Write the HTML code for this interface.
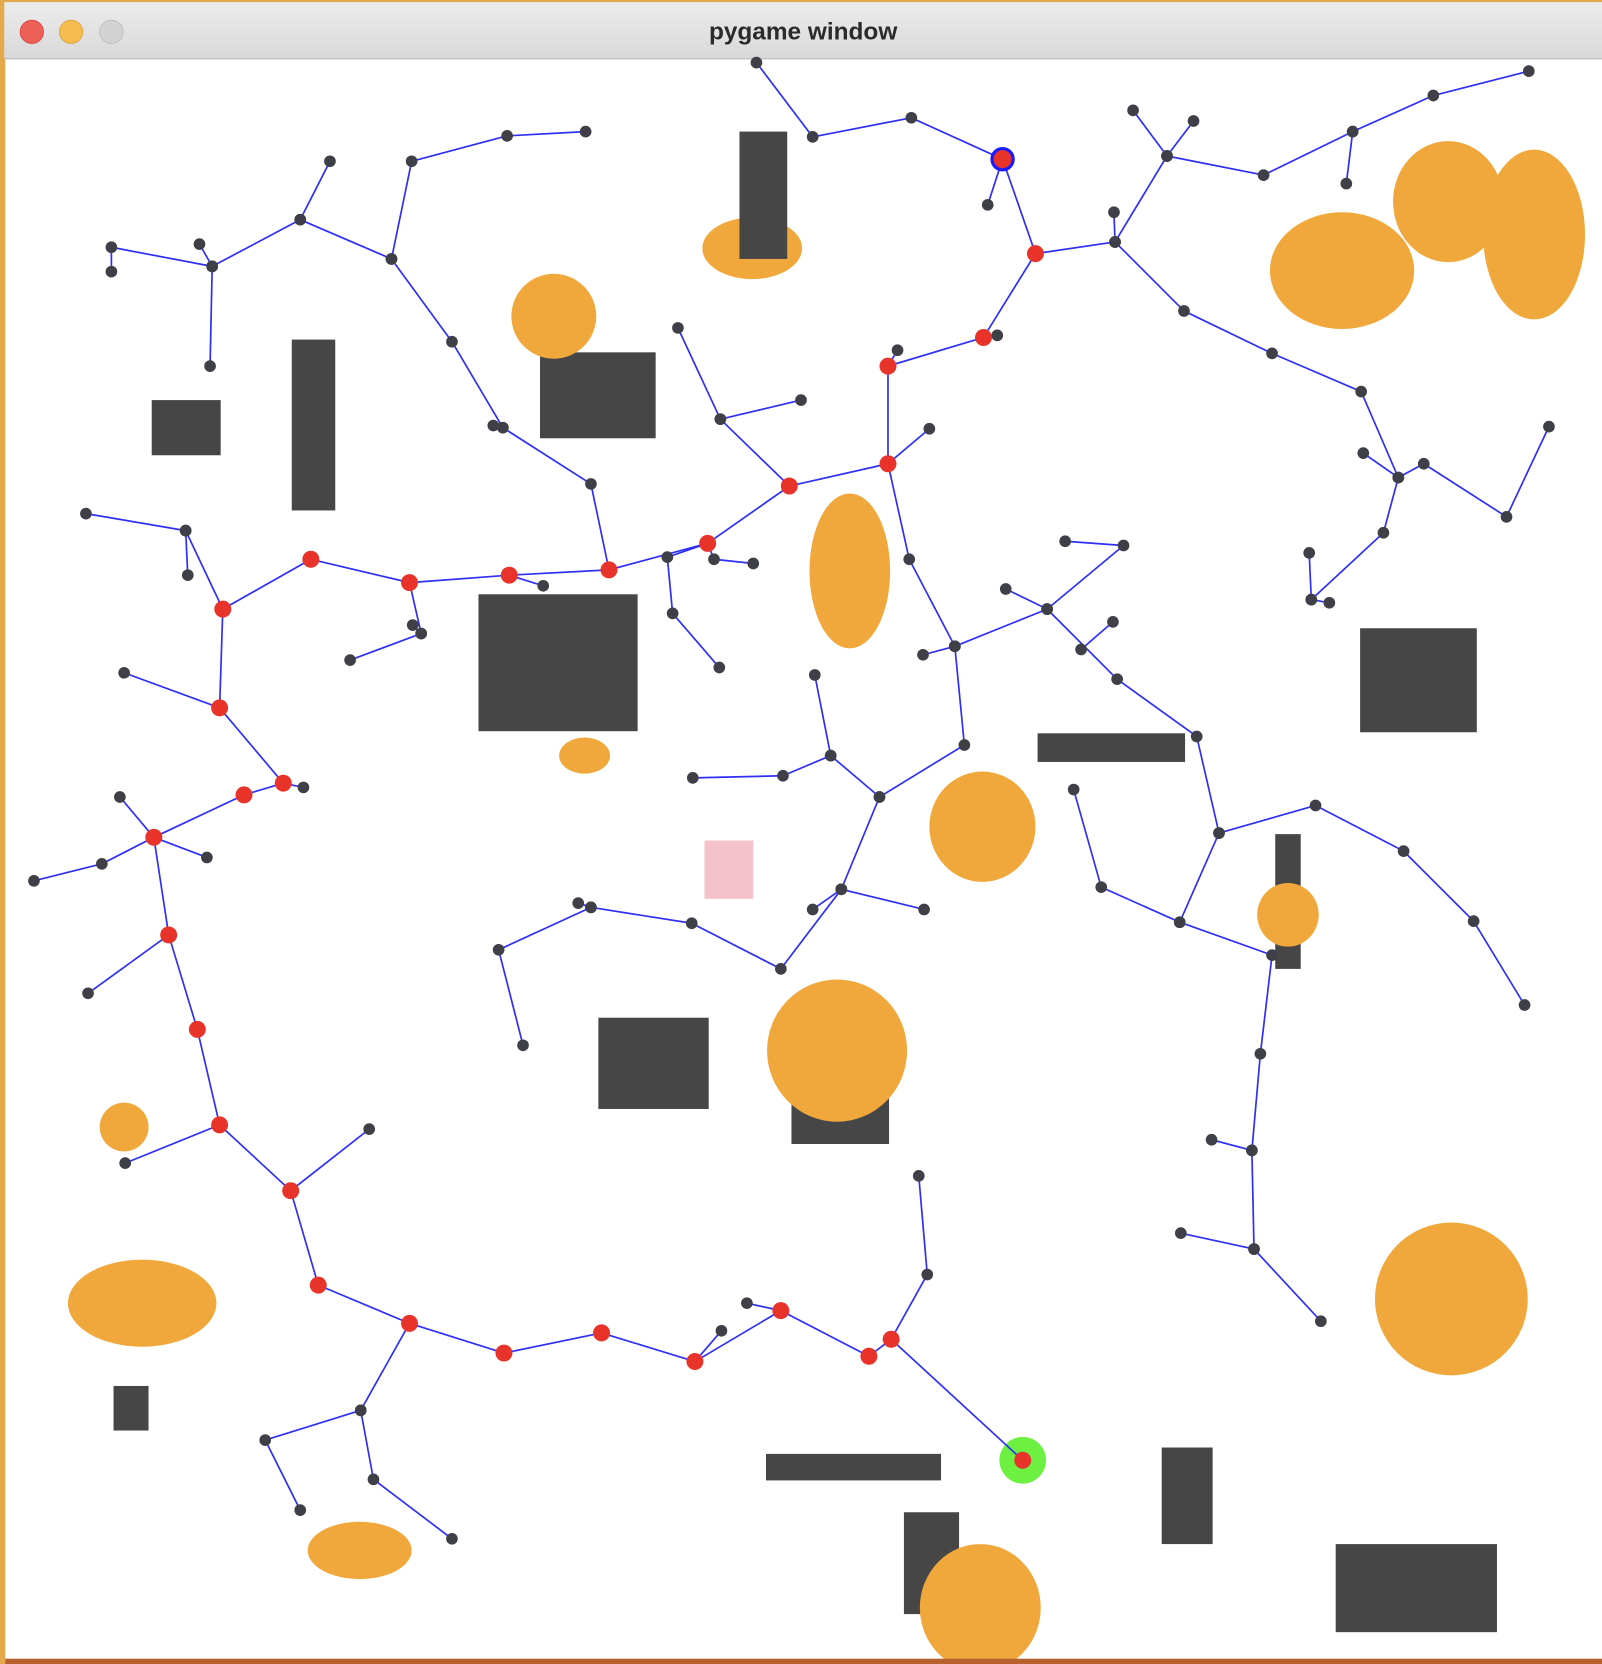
<!DOCTYPE html>
<html><head><meta charset="utf-8"><title>pygame window</title>
<style>
html,body{margin:0;padding:0;width:1602px;height:1664px;overflow:hidden;background:#fff;}
svg{display:block;}
</style></head>
<body>
<svg id="scene" width="1602" height="1664" viewBox="0 0 1510 1568" preserveAspectRatio="none" xmlns="http://www.w3.org/2000/svg">
  <rect x="0" y="0" width="1510" height="1568" fill="#e3a94a"/>
  <rect x="5" y="55" width="1505" height="1509" fill="#ffffff"/>
  <defs>
    <linearGradient id="tb" x1="0" y1="0" x2="0" y2="1">
      <stop offset="0" stop-color="#ececec"/><stop offset="1" stop-color="#d9d9d9"/>
    </linearGradient>
  </defs>
  <rect x="4" y="2" width="1506" height="53" fill="url(#tb)"/>
  <line x1="4" y1="55.5" x2="1510" y2="55.5" stroke="#b9b9b9" stroke-width="1"/>
  <circle cx="30" cy="30" r="11" fill="#ee5f57" stroke="#d8473f" stroke-width="0.8"/>
  <circle cx="67" cy="30" r="11" fill="#f5bd4f" stroke="#d9a13a" stroke-width="0.8"/>
  <circle cx="105" cy="30" r="11" fill="#d3d3d3" stroke="#bcbcbc" stroke-width="0.8"/>
  <text x="757" y="37" text-anchor="middle" font-family="Liberation Sans, sans-serif" font-weight="bold" font-size="23" fill="#2b2b2b">pygame window</text>
  <g id="obstacles"></g>
  <g id="edges"></g>
  <g id="nodes"></g>
</svg>
<script>
const NS = "http://www.w3.org/2000/svg";
const rects = [[275,320,316,481],[143,377,208,429],[509,332,618,413],[451,560,601,689],[1282,592,1392,690],[978,691,1117,718],[1202,786,1226,913],[564,959,668,1045],[746,1035,838,1078],[107,1306,140,1348],[722,1370,887,1395],[852,1425,904,1521],[1095,1364,1143,1455],[1259,1455,1411,1538]];
const topRects = [[697,124,742,244]];
const ellipses = [[709,234,47,29],[522,298,40,40],[1265,255,68,55],[1365,190,52,57],[1446,221,48,80],[801,538,38,73],[551,712,24,17],[926,779,50,52],[1214,862,29,30],[789,990,66,67],[117,1062,23,23],[134,1228,70,41],[1368,1224,72,72],[339,1461,49,27],[924,1515,57,60]];
const pathNodes = [[945,150],[976,239],[927,318],[837,345],[837,437],[744,458],[667,512],[574,537],[480,542],[386,549],[293,527],[210,574],[207,667],[267,738],[230,749],[145,789],[159,881],[186,970],[207,1060],[274,1122],[300,1211],[386,1247],[475,1275],[567,1256],[655,1283],[736,1235],[819,1278],[840,1262],[964,1376]];
const branches = [
 [[713,59],[766,129],[859,111],[945,150]],
 [[945,150],[931,193]],
 [[976,239],[1051,228],[1100,147],[1068,104]],
 [[1051,228],[1050,200]],
 [[1100,147],[1125,114]],
 [[1100,147],[1191,165],[1275,124],[1351,90],[1441,67]],
 [[1275,124],[1269,173]],
 [[1051,228],[1116,293],[1199,333],[1283,369],[1318,450],[1285,427]],
 [[1318,450],[1342,437],[1420,487],[1460,402]],
 [[1318,450],[1304,502],[1236,565],[1234,521]],
 [[1236,565],[1253,568]],
 [[927,318],[940,316]],
 [[837,345],[846,330]],
 [[837,437],[876,404]],
 [[837,437],[857,527],[900,609],[870,617]],
 [[900,609],[987,574],[948,555]],
 [[987,574],[1059,514],[1004,510]],
 [[987,574],[1053,640],[1128,694],[1149,785],[1240,759],[1323,802],[1389,868],[1437,947]],
 [[1019,612],[1049,586]],
 [[1149,785],[1112,869],[1038,836],[1012,744]],
 [[1112,869],[1199,900],[1188,993],[1180,1084],[1142,1074]],
 [[1180,1084],[1182,1177],[1113,1162]],
 [[1182,1177],[1245,1245]],
 [[900,609],[909,702],[829,751],[783,712],[768,636]],
 [[783,712],[738,731],[653,733]],
 [[829,751],[793,838],[871,857]],
 [[793,838],[766,857]],
 [[793,838],[736,913],[652,870],[557,855],[545,851]],
 [[557,855],[470,895],[493,985]],
 [[744,458],[679,395],[639,309]],
 [[679,395],[755,377]],
 [[667,512],[673,527],[710,531]],
 [[667,512],[629,525],[634,578],[678,629]],
 [[574,537],[557,456],[474,403],[426,322],[369,244],[388,152],[478,128],[552,124]],
 [[474,403],[465,401]],
 [[369,244],[283,207],[311,152]],
 [[283,207],[200,251],[105,233],[105,256]],
 [[200,251],[188,230]],
 [[200,251],[198,345]],
 [[480,542],[512,552]],
 [[386,549],[397,597],[330,622]],
 [[397,597],[389,589]],
 [[210,574],[175,500],[81,484]],
 [[175,500],[177,542]],
 [[207,667],[117,634]],
 [[267,738],[286,742]],
 [[145,789],[113,751]],
 [[145,789],[195,808]],
 [[145,789],[96,814],[32,830]],
 [[159,881],[83,936]],
 [[207,1060],[118,1096]],
 [[274,1122],[348,1064]],
 [[386,1247],[340,1329],[250,1357],[283,1423]],
 [[340,1329],[352,1394],[426,1450]],
 [[655,1283],[680,1254]],
 [[736,1235],[704,1228]],
 [[840,1262],[874,1201],[866,1108]]
];

const gO = document.getElementById('obstacles');
const gE = document.getElementById('edges');
const gN = document.getElementById('nodes');
function mk(tag, attrs, parent){ const e=document.createElementNS(NS,tag); for(const k in attrs) e.setAttribute(k,attrs[k]); parent.appendChild(e); return e; }

rects.forEach(r=>{
  const e = mk('rect',{x:r[0],y:r[1],width:r[2]-r[0],height:r[3]-r[1],fill:'#464646'},gO);
  
  
});
ellipses.forEach(o=>{
  const e = mk('ellipse',{cx:o[0],cy:o[1],rx:o[2],ry:o[3],fill:'#f0a83c'},gO);
  
  
});
topRects.forEach(r=>{
  const e = mk('rect',{x:r[0],y:r[1],width:r[2]-r[0],height:r[3]-r[1],fill:'#464646'},gO);
  
  
});
const bot = mk('rect',{x:5,y:1563,width:1505,height:5,fill:'#b8612f'},gO);


const pink = mk('rect',{x:664,y:792,width:46,height:55,fill:'#f4c2ca'},gO);


const green = mk('circle',{cx:964,cy:1376,r:22,fill:'#6ef043'},gO);



const gray = [];
branches.forEach(b=>{
  for(let i=0;i<b.length-1;i++){
    const l = mk('line',{x1:b[i][0],y1:b[i][1],x2:b[i+1][0],y2:b[i+1][1],stroke:'#2f2ff5','stroke-width':1.6},gE);
    
    
  }
  b.forEach(p=>gray.push(p));
});
for(let i=0;i<pathNodes.length-1;i++){
  const l = mk('line',{x1:pathNodes[i][0],y1:pathNodes[i][1],x2:pathNodes[i+1][0],y2:pathNodes[i+1][1],stroke:'#2f2ff5','stroke-width':1.6},gE);
  
  
}
const isPath = p => pathNodes.some(q=>q[0]===p[0]&&q[1]===p[1]);
gray.forEach(p=>{
  if(isPath(p)) return;
  const c = mk('circle',{cx:p[0],cy:p[1],r:5.5,fill:'#3f3f48'},gN);
  
  
});
pathNodes.forEach((p,i)=>{
  const c = mk('circle',{cx:p[0],cy:p[1],r:8,fill:'#e8332a'},gN);
  if(i===0){ c.setAttribute('stroke','#1a1aff'); c.setAttribute('stroke-width','3'); c.setAttribute('r','10'); }
  
  
});
</script>
</body></html>
